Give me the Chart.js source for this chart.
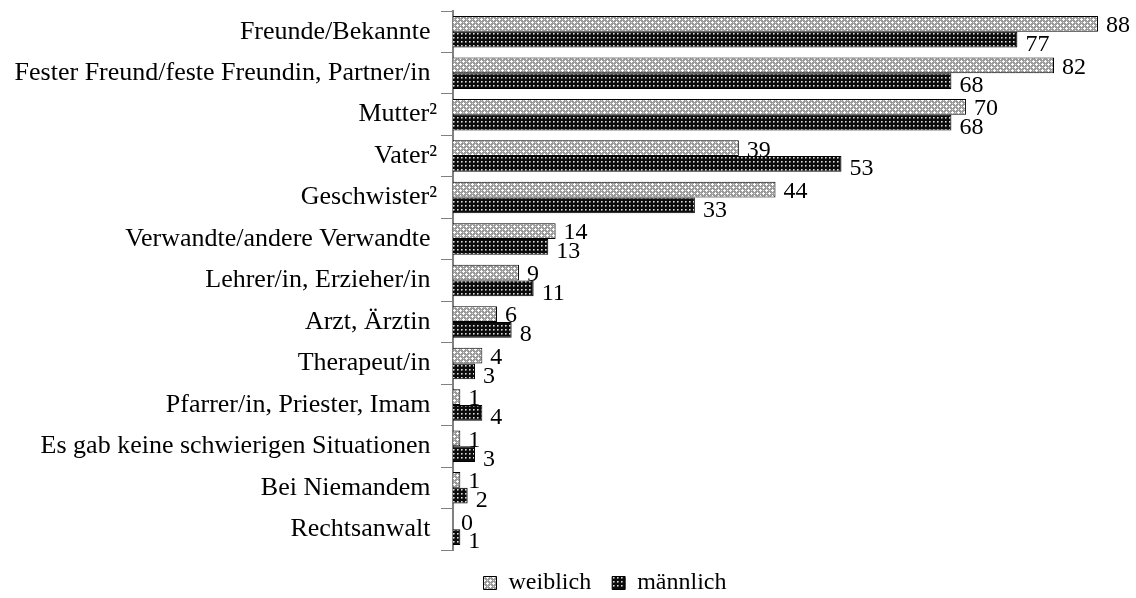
<!DOCTYPE html>
<html>
<head>
<meta charset="utf-8">
<script src="https://cdn.jsdelivr.net/npm/chart.js@4.4.1/dist/chart.umd.min.js"></script>
<style>
  body { margin: 0; background: #ffffff; }
</style>
</head>
<body>
<canvas id="chart" width="1136" height="598"></canvas>
<script>
// Kategorien (Reihenfolge von oben nach unten)
const kategorien = [
    'Freunde/Bekannte ',
    'Fester Freund/feste Freundin, Partner/in ',
    'Mutter²',
    'Vater²',
    'Geschwister²',
    'Verwandte/andere Verwandte ',
    'Lehrer/in, Erzieher/in ',
    'Arzt, Ärztin ',
    'Therapeut/in ',
    'Pfarrer/in, Priester, Imam ',
    'Es gab keine schwierigen Situationen ',
    'Bei Niemandem ',
    'Rechtsanwalt '
];
const weiblich = [88, 82, 70, 39, 44, 14, 9, 6, 4, 1, 1, 1, 0];
const maennlich = [77, 68, 68, 53, 33, 13, 11, 8, 3, 4, 3, 2, 1];
const serien = ['weiblich', 'männlich'];

const schrift = '"Liberation Serif", "Times New Roman", serif';

// Musterfüllungen wie im Original (Excel-Schraffur)
function musterWeiblich() {
    const c = document.createElement('canvas');
    c.width = 6; c.height = 6;
    const g = c.getContext('2d');
    g.fillStyle = '#9a9a9a';
    g.fillRect(0, 0, 6, 6);
    g.fillStyle = '#ffffff';
    [[1, 1], [4, 4]].forEach(([x, y]) => {
        g.fillRect(x - 1, y, 3, 1);
        g.fillRect(x, y - 1, 1, 3);
    });
    g.fillStyle = '#d4d4d4';
    [[4, 1], [1, 4]].forEach(([x, y]) => {
        g.fillRect(x, y, 1, 1);
    });
    return g.createPattern(c, 'repeat');
}

function musterMaennlich() {
    const c = document.createElement('canvas');
    c.width = 4; c.height = 4;
    const g = c.getContext('2d');
    g.fillStyle = '#0c0c0c';
    g.fillRect(0, 0, 4, 4);
    g.fillStyle = '#e0e0e0';
    g.fillRect(1, 1, 1, 1);
    g.fillStyle = '#8a8a8a';
    g.fillRect(2, 1, 1, 1);
    g.fillRect(1, 2, 1, 1);
    g.fillStyle = '#4a4a4a';
    g.fillRect(2, 2, 1, 1);
    return g.createPattern(c, 'repeat');
}

// Werte rechts neben den Balken
const wertLabels = {
    id: 'wertLabels',
    afterDatasetsDraw(chart) {
        const ctx = chart.ctx;
        ctx.save();
        ctx.fillStyle = '#000000';
        ctx.font = '24px ' + schrift;
        ctx.textAlign = 'left';
        ctx.textBaseline = 'middle';
        chart.data.datasets.forEach((ds, i) => {
            const meta = chart.getDatasetMeta(i);
            const versatz = i === 0 ? 2 : 5;
            meta.data.forEach((bar, j) => {
                ctx.fillText(ds.data[j], bar.x + 8, bar.y + versatz);
            });
        });
        ctx.restore();
    }
};

// Legende wie im Original unter der Zeichenfläche zentrieren
const legendeVerschieben = {
    id: 'legendeVerschieben',
    afterLayout(chart) {
        chart.legend.left = 112;
    }
};

const ctx = document.getElementById('chart').getContext('2d');

new Chart(ctx, {
    type: 'bar',
    data: {
        labels: kategorien,
        datasets: [{
            label: serien[0],
            data: weiblich,
            backgroundColor: musterWeiblich(),
            borderColor: '#000000',
            borderWidth: 1,
            borderSkipped: 'start'
        }, {
            label: serien[1],
            data: maennlich,
            backgroundColor: musterMaennlich(),
            borderColor: '#000000',
            borderWidth: 1,
            borderSkipped: 'start'
        }]
    },
    options: {
        indexAxis: 'y',
        responsive: false,
        animation: false,
        datasets: {
            bar: {
                categoryPercentage: 0.76,
                barPercentage: 1.0
            }
        },
        layout: {
            padding: { top: 11, right: 38, bottom: -7, left: 0 }
        },
        scales: {
            x: {
                display: false,
                min: 0,
                max: 88
            },
            y: {
                afterFit: (s) => {
                    s.width = 453;
                    s.paddingTop = 0;
                    s.paddingBottom = 0;
                },
                grid: {
                    display: true,
                    drawOnChartArea: false,
                    drawTicks: true,
                    tickLength: 12,
                    offset: true,
                    color: '#808080',
                    lineWidth: 1
                },
                border: {
                    display: true,
                    color: '#808080',
                    width: 2
                },
                ticks: {
                    padding: 4,
                    color: '#000000',
                    autoSkip: false,
                    font: { family: schrift, size: 26 }
                }
            }
        },
        plugins: {
            legend: {
                position: 'bottom',
                labels: {
                    boxWidth: 13,
                    boxHeight: 13,
                    padding: 21,
                    color: '#000000',
                    font: { family: schrift, size: 24 }
                }
            },
            tooltip: { enabled: false }
        }
    },
    plugins: [wertLabels, legendeVerschieben]
});
</script>
</body>
</html>
